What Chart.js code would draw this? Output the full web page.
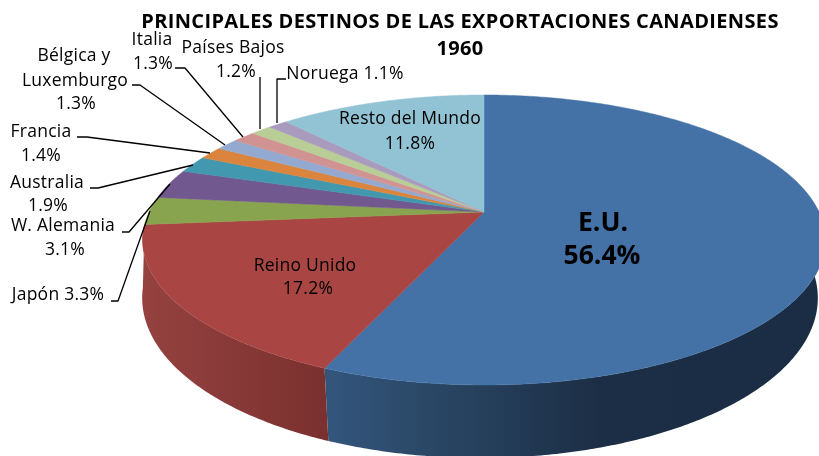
<!DOCTYPE html>
<html><head><meta charset="utf-8">
<style>html,body{margin:0;padding:0;background:#fff}canvas{display:block;filter:blur(0.45px)}</style>
<script src="https://cdn.jsdelivr.net/npm/chart.js@4/dist/chart.umd.min.js"></script>
</head><body><canvas id="c" width="819" height="456"></canvas>
<script>
const categories = ["E.U.","Reino Unido","W. Alemania","Japón","Australia","Francia","Bélgica y Luxemburgo","Italia","Países Bajos","Noruega","Resto del Mundo"];
const values = [56.4,17.2,3.1,3.3,1.9,1.4,1.3,1.3,1.2,1.1,11.8];
const sliceColors = ["#4472A6","#A94643","#89A44E","#71588F","#4198AF","#DB843D","#93A9CF","#D19392","#B9CD96","#A99BBD","#92C3D4"];
const titleLines = ["PRINCIPALES DESTINOS DE LAS EXPORTACIONES CANADIENSES","1960"];

// label layout: text lines with centre positions, leader polylines
const labelLayout = [
 {t:[["E.U.",603,222],["56.4%",602,255]],big:true},
 {t:[["Reino Unido",305,265],["17.2%",308,288]]},
 {t:[["W. Alemania",63,225],["3.1%",65,249]],l:[[122,232],[129,232],[170,184]]},
 {t:[["Japón 3.3%",58,294]],l:[[111,301],[118,301],[150,211]]},
 {t:[["Australia",47,182],["1.9%",48,205]],l:[[90,188],[98,188],[193,165]]},
 {t:[["Francia",41,131],["1.4%",41,155]],l:[[77,137],[87,137],[210,153]]},
 {t:[["Bélgica y",74,55],["Luxemburgo",75,80],["1.3%",76,103]],l:[[132,85],[140,85],[225,145]]},
 {t:[["Italia",152,39],["1.3%",153,63]],l:[[175,68],[185,68],[243,137]]},
 {t:[["Países Bajos",233,47],["1.2%",236,71]],l:[[260,77],[260,129]]},
 {t:[["Noruega 1.1%",345,73]],l:[[286,79],[277,79],[277,123]]},
 {t:[["Resto del Mundo",410,118],["11.8%",410,143]]}
];
const textShiftY = 1.5;
// projection of the pie disc: top face and lower rim
const topFace = {cx:484,ay:212,R:335,B:139.6,k:0.193};
const lowFace = {cx:480,ay:274,R:334,B:156.4,k:0.15};
const wallStops = {
 0:[[330,"#33557C"],[430,"#2A4765"],[600,"#1C2E45"],[819,"#1B2D44"]],
 1:[[143,"#954240"],[330,"#79302E"]]
};
function project(f,a){ // a: chart.js arc angle
  const u=Math.cos(a), v=Math.sin(a), w=1-f.k*v;
  return [f.cx+f.R*u/w, f.ay+f.B*v/w];
}
function arcPts(f,a0,a1){
  const n=Math.max(2,Math.ceil(Math.abs(a1-a0)/0.01)), p=[];
  for(let i=0;i<=n;i++) p.push(project(f,a0+(a1-a0)*i/n));
  return p;
}
const pie3d = {
  id:'pie3d',
  beforeDraw(chart){ chart.ctx.letterSpacing='0.36px'; },
  beforeDatasetDraw(chart,args){
    const ctx=chart.ctx, arcs=chart.getDatasetMeta(args.index).data;
    ctx.save();
    ctx.letterSpacing='0px';
    // rim walls: only the two front-facing slices show a wall
    arcs.forEach((el,i)=>{
      const st=wallStops[i];
      if(!st) return;
      let a0=Math.max(el.startAngle,-0.02), a1=el.endAngle;
      const top=arcPts(topFace,a0,a1), low=arcPts(lowFace,a0,a1).reverse();
      ctx.beginPath();
      top.concat(low).forEach((p,j)=>j?ctx.lineTo(p[0],p[1]):ctx.moveTo(p[0],p[1]));
      ctx.closePath();
      const x0=st[0][0],x1=st[st.length-1][0];
      const g=ctx.createLinearGradient(x0,0,x1,0);
      st.forEach(s=>g.addColorStop((s[0]-x0)/(x1-x0),s[1]));
      ctx.fillStyle=g; ctx.fill();
    });
    // top face
    arcs.forEach((el,i)=>{
      const p=arcPts(topFace,el.startAngle,el.endAngle);
      ctx.beginPath();
      ctx.moveTo(topFace.cx,topFace.ay);
      p.forEach(q=>ctx.lineTo(q[0],q[1]));
      ctx.closePath();
      ctx.fillStyle=sliceColors[i]; ctx.fill();
      ctx.strokeStyle=sliceColors[i]; ctx.lineWidth=0.5; ctx.stroke();
    });
    // leader lines and labels
    ctx.strokeStyle="#000"; ctx.lineWidth=1.3; ctx.lineJoin="round";
    labelLayout.forEach(L=>{
      if(!L.l) return;
      ctx.beginPath();
      L.l.forEach((p,j)=>j?ctx.lineTo(p[0],p[1]):ctx.moveTo(p[0],p[1]));
      ctx.stroke();
    });
    ctx.fillStyle="#000"; ctx.textAlign="center"; ctx.textBaseline="middle";
    labelLayout.forEach(L=>{
      ctx.font=L.big?'bold 26.5px "Open Sans"':'17.5px "Open Sans"';
      ctx.letterSpacing=L.big?'0px':'0.25px';
      L.t.forEach(t=>ctx.fillText(t[0],t[1],t[2]+textShiftY));
    });
    ctx.restore();
    return false;
  }
};
new Chart(document.getElementById('c'),{
  type:'pie',
  data:{labels:categories,datasets:[{data:values,backgroundColor:sliceColors,borderWidth:0}]},
  options:{
    responsive:false,animation:false,
    layout:{padding:{left:101}},
    plugins:{
      legend:{display:false},tooltip:{enabled:false},
      title:{display:true,text:titleLines,fullSize:false,color:"#000",
        font:{family:'"Open Sans"',weight:'bold',size:20,lineHeight:1.35},padding:{top:8.5,bottom:0}}
    }
  },
  plugins:[pie3d]
});
</script></body></html>
